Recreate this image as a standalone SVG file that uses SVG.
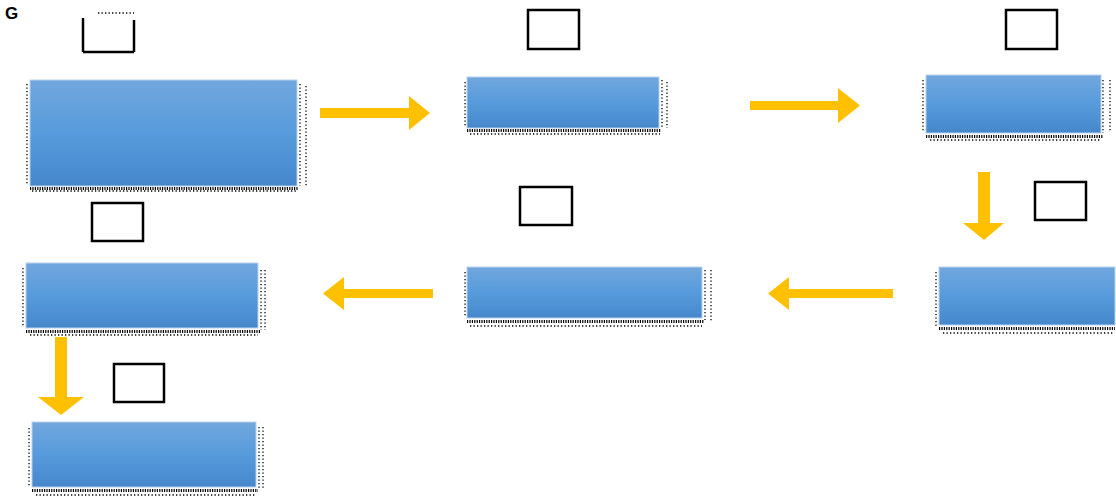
<svg xmlns="http://www.w3.org/2000/svg" width="1116" height="498" viewBox="0 0 1116 498">
<style>
.box{fill:url(#g);stroke:#b7d1ee;stroke-width:1}
.dot{fill:none;stroke:#000;stroke-width:1.3;stroke-dasharray:1.3 2.2}
.dot2{fill:none;stroke:#000;stroke-width:3;stroke-dasharray:1.2 1.2}
.sq{fill:#fff;stroke:#000;stroke-width:2.5}
.arr{fill:#ffc000}
</style>
<defs>
<linearGradient id="g" x1="0" y1="0" x2="0" y2="1">
<stop offset="0" stop-color="#71a7dd"/>
<stop offset="0.5" stop-color="#579bdc"/>
<stop offset="1" stop-color="#4687cc"/>
</linearGradient>
</defs>
<rect width="1116" height="498" fill="#fff"/>
<text x="5" y="19" font-family="Liberation Sans, sans-serif" font-size="17" font-weight="bold" fill="#000">G</text>
<g id="node1">
<rect class="box" x="30" y="80" width="267" height="106"/>
<path class="dot" d="M27 84V184M300 84V186M306 86V186M32 191H298"/>
<path class="dot2" d="M30 188.5H298"/>
<path d="M83 52V18M134 52V20M83 52H134" fill="none" stroke="#000" stroke-width="2.5"/>
<path class="dot" d="M98 13H134"/>
</g>
<g id="node2">
<rect class="box" x="467" y="77" width="192" height="51"/>
<path class="dot" d="M465 82V126M662 80V128M667 82V128M470 134H660"/>
<path class="dot2" d="M467 130.5H661"/>
<rect class="sq" x="528" y="10" width="51" height="39"/>
</g>
<g id="node3">
<rect class="box" x="926" y="75" width="175" height="58"/>
<path class="dot" d="M923 80V132M1103 80V133M1110 80V132M930 140H1101"/>
<path class="dot2" d="M926 136.5H1103"/>
<rect class="sq" x="1006" y="10" width="51" height="39"/>
</g>
<g id="node4">
<rect class="box" x="26" y="263" width="232" height="65"/>
<path class="dot" d="M23 268V327M261 270V330M265 270V330M30 335H258"/>
<path class="dot2" d="M26 331.5H260"/>
<rect class="sq" x="92" y="203" width="51" height="38"/>
</g>
<g id="node5">
<rect class="box" x="467" y="267" width="235" height="51"/>
<path class="dot" d="M465 272V317M705 270V320M711 270V322M470 326H702"/>
<path class="dot2" d="M467 321.5H704"/>
<rect class="sq" x="520" y="187" width="52" height="38"/>
</g>
<g id="node6">
<rect class="box" x="939" y="267" width="176" height="58"/>
<path class="dot" d="M936 272V326M943 333H1114"/>
<path class="dot2" d="M939 328.5H1115"/>
<rect class="sq" x="1035" y="182" width="51" height="38"/>
</g>
<g id="node7">
<rect class="box" x="32" y="422" width="224" height="65"/>
<path class="dot" d="M29 428V487M259 427V490M263 427V490M36 495H256"/>
<path class="dot2" d="M32 490.5H258"/>
<rect class="sq" x="114" y="364" width="50" height="38"/>
</g>
<g id="connectors">
<polygon class="arr" points="320,108 409,108 409,96 430,113 409,130 409,118 320,118"/>
<polygon class="arr" points="750,101 838,101 838,88 860,105.5 838,123 838,110 750,110"/>
<polygon class="arr" points="433,289 344,289 344,277 323,293.5 344,310 344,298 433,298"/>
<polygon class="arr" points="893,289 789,289 789,277 768,293.5 789,310 789,298 893,298"/>
<polygon class="arr" points="978,172 990,172 990,223 1004,223 984,240 963,223 978,223"/>
<polygon class="arr" points="55,337 67,337 67,397 84,397 61,415 38,397 55,397"/>
</g>
</svg>
